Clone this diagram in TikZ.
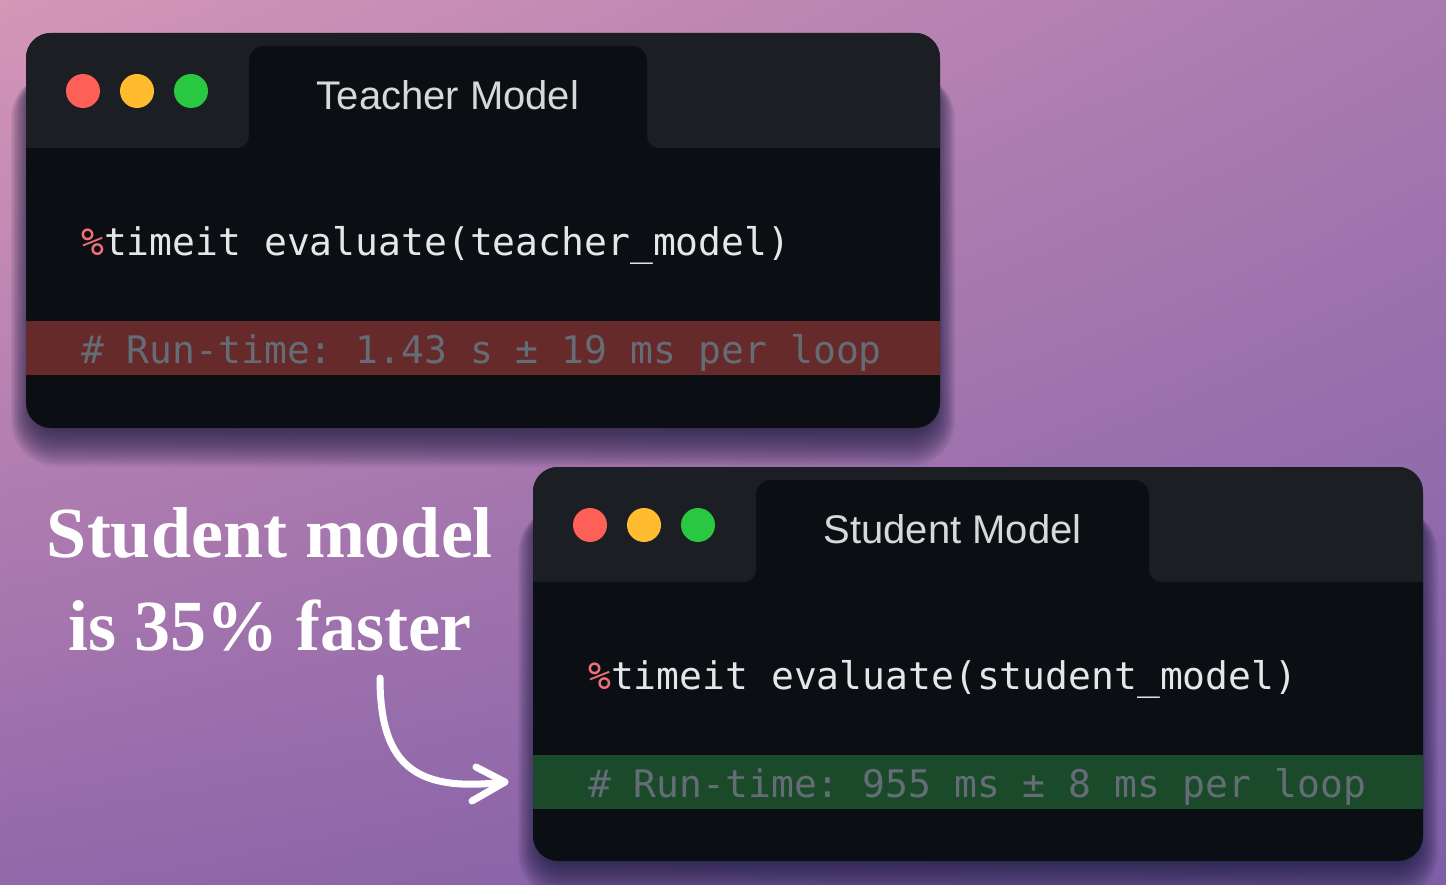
\documentclass[tikz,border=0pt]{standalone}
\usepackage{fontspec}
\usetikzlibrary{shadings}
\setmainfont{Liberation Serif}
\newfontfamily\titlefont{Liberation Sans}
\newfontfamily\codefont{DejaVu Sans Mono}
\newfontfamily\bigfont{Liberation Serif}
\frenchspacing
\definecolor{bgTL}{HTML}{D596B7}
\definecolor{bgTR}{HTML}{A97AB0}
\definecolor{bgBL}{HTML}{9268AA}
\definecolor{bgBR}{HTML}{7D5EA6}
\definecolor{barcol}{HTML}{1B1F24}
\definecolor{bodycol}{HTML}{0B0E12}
\definecolor{redband}{HTML}{672A2B}
\definecolor{greenband}{HTML}{1B4A2B}
\definecolor{commentcol}{HTML}{646D76}
\definecolor{codecol}{HTML}{E6E6E6}
\definecolor{pctcol}{HTML}{F0707A}
\definecolor{titlecol}{HTML}{D8D8D8}
\definecolor{dotred}{HTML}{FE5F57}
\definecolor{dotyellow}{HTML}{FEBC2E}
\definecolor{dotgreen}{HTML}{28C840}
\definecolor{shadowcol}{HTML}{15183A}
\tikzset{
  codetext/.style={inner sep=0pt, text=codecol, font=\codefont\fontsize{38}{40}\selectfont},
  commenttext/.style={inner sep=0pt, text=commentcol, font=\codefont\fontsize{38}{40}\selectfont},
  titletext/.style={inner sep=0pt, text=titlecol, font=\titlefont\fontsize{40}{44}\selectfont},
  bigtext/.style={inner sep=0pt, text=white, font=\bigfont\bfseries\fontsize{72}{92}\selectfont},
  arrowline/.style={draw=white, line width=7pt, line cap=round, line join=round},
}
\newcommand{\winshadow}[4]{%
  \foreach \k in {0,...,15}{%
    \pgfmathsetmacro\rr{25+\k*1.4}%
    \fill[shadowcol, opacity=0.065, rounded corners=\rr pt]
      ({#1+6-\k*1.4},{#2+40}) rectangle ({#3-6+\k*1.4},{#4+4+\k*2.3});
  }%
}
\newcommand{\winframe}[5]{%
  % #1 width, #2 height, #3 tab left, #4 tab right, #5 band colour
  \fill[bodycol, rounded corners=25] (0,0) rectangle (#1,#2);
  \begin{scope}
    \clip[rounded corners=25] (0,0) rectangle (#1,#2);
    \fill[barcol] (0,0) rectangle (#1,115);
    \fill[bodycol, rounded corners=15] (#3,13) rectangle (#4,140);
    \fill[bodycol] (#3,115) -- (#3,103) .. controls (#3,109.6) and ({#3-5.4},115) .. ({#3-12},115) -- cycle;
    \fill[bodycol] (#4,115) -- (#4,103) .. controls (#4,109.6) and ({#4+5.4},115) .. ({#4+12},115) -- cycle;
    \fill[#5] (0,288) rectangle (#1,342);
  \end{scope}
  \fill[dotred] (57,58) circle[radius=17];
  \fill[dotyellow] (111,58) circle[radius=17];
  \fill[dotgreen] (165,58) circle[radius=17];
}
\begin{document}
\begin{tikzpicture}[x=1pt,y=-1pt]
\useasboundingbox (0,0) rectangle (1446,885);
\shade[upper left=bgTL, upper right=bgTR, lower left=bgBL, lower right=bgBR] (0,0) rectangle (1446,885);

% shadows
\winshadow{26}{33}{940}{428}
\winshadow{533}{467}{1423}{861}

% teacher window
\begin{scope}[shift={(26,33)}]
  \winframe{914}{395}{223}{621}{redband}
  \node[titletext, anchor=base] (ttitle) at (422,77) {Teacher Model};
  \node[codetext, anchor=base west] (tcode) at (55,223) {\textcolor{pctcol}{\%}timeit evaluate(teacher\_model)};
  \node[commenttext, anchor=base west] (tband) at (55,330) {\# Run-time: 1.43 s ± 19 ms per loop};
\end{scope}

% student window
\begin{scope}[shift={(533,467)}]
  \winframe{890}{394}{223}{616}{greenband}
  \node[titletext, anchor=base] (stitle) at (419.5,76) {Student Model};
  \node[codetext, anchor=base west] (scode) at (55,222) {\textcolor{pctcol}{\%}timeit evaluate(student\_model)};
  \node[commenttext, anchor=base west] (sband) at (55,330) {\# Run-time: 955 ms ± 8 ms per loop};
\end{scope}

% caption
\node[bigtext, anchor=base] (line1) at (270,557) {Student model};
\node[bigtext, anchor=base] (line2) at (270,650) {is 35\% faster};

% arrow
\coordinate (arrowstart) at (380,678);
\coordinate (arrowtip) at (505,782);
\draw[arrowline] (arrowstart) .. controls (380,770) and (420,792) .. (arrowtip);
\draw[arrowline] (arrowtip) ++(-29,-15) -- (arrowtip) -- ++(-33,19);
\end{tikzpicture}
\end{document}
